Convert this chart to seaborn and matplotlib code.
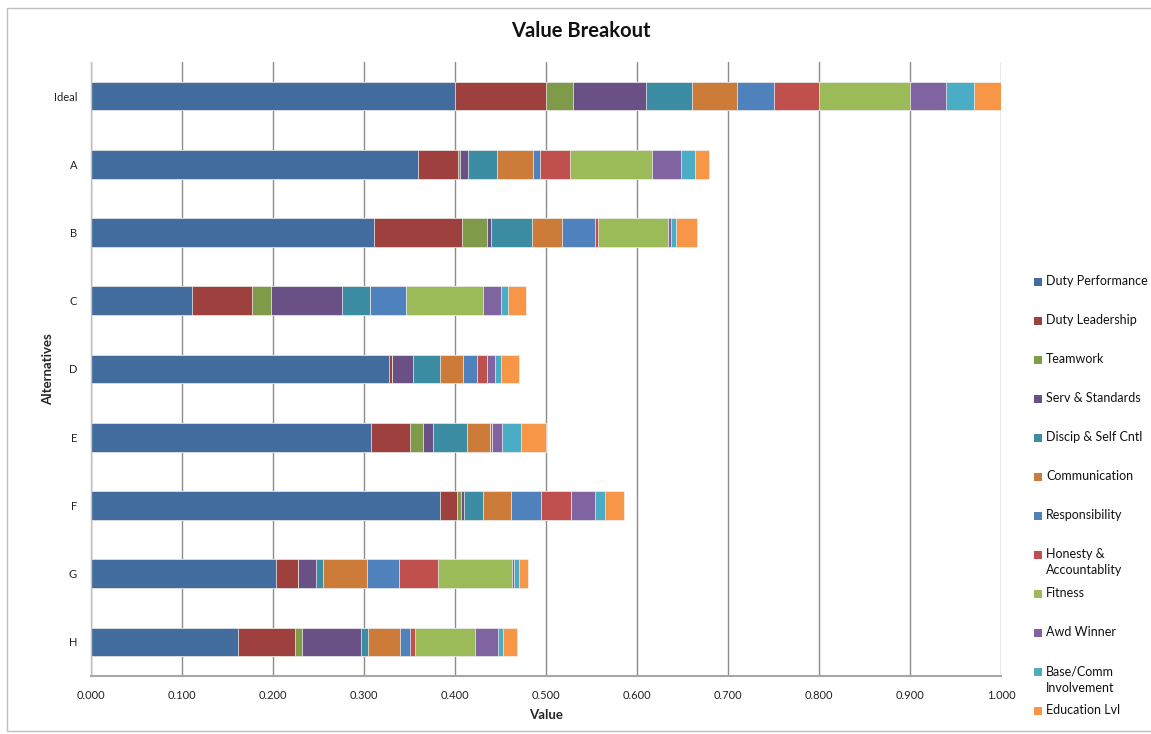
import numpy as np
import pandas as pd
import matplotlib
matplotlib.use("Agg")
import matplotlib.pyplot as plt
from matplotlib.patches import Rectangle
from matplotlib.ticker import FixedLocator, StrMethodFormatter
import seaborn as sns

# ---- data -------------------------------------------------------------
alternatives = ["Ideal", "A", "B", "C", "D", "E", "F", "G", "H"]

criteria = [
    "Duty Performance", "Duty Leadership", "Teamwork", "Serv & Standards",
    "Discip & Self Cntl", "Communication", "Responsibility",
    "Honesty &\nAccountablity", "Fitness", "Awd Winner",
    "Base/Comm\nInvolvement", "Education Lvl",
]

duty_performance = [0.400, 0.359, 0.311, 0.111, 0.327, 0.308, 0.384, 0.203, 0.162]
duty_leadership  = [0.100, 0.044, 0.097, 0.066, 0.004, 0.043, 0.018, 0.025, 0.062]
teamwork         = [0.030, 0.003, 0.027, 0.021, 0.000, 0.014, 0.005, 0.000, 0.008]
serv_standards   = [0.080, 0.008, 0.005, 0.078, 0.023, 0.011, 0.003, 0.019, 0.065]
discip_self_cntl = [0.050, 0.032, 0.045, 0.031, 0.030, 0.037, 0.021, 0.008, 0.007]
communication    = [0.050, 0.040, 0.033, 0.000, 0.025, 0.025, 0.031, 0.048, 0.036]
responsibility   = [0.040, 0.007, 0.036, 0.039, 0.015, 0.000, 0.032, 0.035, 0.011]
honesty_account  = [0.050, 0.033, 0.003, 0.000, 0.011, 0.003, 0.033, 0.043, 0.005]
fitness          = [0.100, 0.090, 0.077, 0.085, 0.000, 0.000, 0.000, 0.082, 0.066]
awd_winner       = [0.040, 0.032, 0.003, 0.020, 0.009, 0.011, 0.027, 0.002, 0.025]
base_comm_involv = [0.030, 0.016, 0.006, 0.007, 0.007, 0.021, 0.011, 0.005, 0.006]
education_lvl    = [0.030, 0.015, 0.023, 0.020, 0.019, 0.027, 0.021, 0.010, 0.015]

series = [
    duty_performance, duty_leadership, teamwork, serv_standards,
    discip_self_cntl, communication, responsibility, honesty_account,
    fitness, awd_winner, base_comm_involv, education_lvl,
]

colors = [
    "#416C9D", "#9E413E", "#7F9A48", "#695185", "#3C8DA3", "#CC7B38",
    "#4F81BD", "#C0504D", "#9BBB59", "#8064A2", "#4BACC6", "#F79646",
]

# ---- style ------------------------------------------------------------
sns.set_style("white")
plt.rcParams["font.family"] = ["Lato", "DejaVu Sans"]

W, H = 1151, 734
fig = plt.figure(figsize=(W / 100, H / 100), dpi=100)
ax = fig.add_axes([91 / W, 1 - 676 / H, 910 / W, 614 / H])

# stacked bars: draw cumulative totals from the outermost segment inward
values = np.array(series)
cumulative = np.cumsum(values, axis=0)
for i in range(len(series) - 1, -1, -1):
    df = pd.DataFrame({"Alternative": alternatives, "Value": cumulative[i]})
    sns.barplot(
        data=df, x="Value", y="Alternative", orient="h",
        color=colors[i], saturation=1, width=0.42,
        edgecolor="#F2F2F2", linewidth=0.5, ax=ax,
    )

# ---- axes -------------------------------------------------------------
ax.set_xlim(0, 1.0)
ax.set_ylim(8.5, -0.5)
ax.set_xticks(np.arange(0, 1.0001, 0.1))
ax.xaxis.set_major_formatter(StrMethodFormatter("{x:.3f}"))
ax.xaxis.grid(True, color="#8C8C8C", linewidth=1.0)
ax.yaxis.grid(False)
ax.set_axisbelow(True)

ax.yaxis.set_minor_locator(FixedLocator(np.arange(-0.5, 9.0, 1.0)))
ax.tick_params(axis="y", which="major", length=0, pad=10,
               labelsize=8, labelcolor="#222222")
ax.tick_params(axis="y", which="minor", length=5, width=1,
               color="#8C8C8C", direction="out")
ax.tick_params(axis="x", which="major", length=4, width=1,
               color="#8C8C8C", direction="out", pad=6,
               labelsize=8, labelcolor="#222222")

for side in ("top", "right"):
    ax.spines[side].set_visible(False)
ax.spines["left"].set_color("#BFBFBF")
ax.spines["left"].set_linewidth(1.0)
ax.spines["bottom"].set_color("#A6A6A6")
ax.spines["bottom"].set_linewidth(1.5)

ax.set_xlabel("Value", fontsize=9.5, fontweight="bold", labelpad=6)
ax.set_ylabel("Alternatives", fontsize=9.5, fontweight="bold", labelpad=0)

fig.text(581 / W, 1 - 31 / H, "Value Breakout", ha="center", va="center",
         fontsize=14.5, fontweight="bold", color="#111111")

# ---- legend -------------------------------------------------------------
row0, step = 282, 39
for k, (name, col) in enumerate(zip(criteria, colors)):
    yc = row0 + k * step
    fig.patches.append(Rectangle((1034 / W, 1 - (yc + 4) / H), 8 / W, 8 / H,
                                 transform=fig.transFigure, facecolor=col,
                                 edgecolor="none"))
    fig.text(1046 / W, 1 - (yc - 7) / H, name, ha="left", va="top",
             fontsize=9, color="#111111", linespacing=1.45)

# chart frame
fig.patches.append(Rectangle((7 / W, 1 - 731 / H), 1.2, 723 / H,
                             transform=fig.transFigure, facecolor="none",
                             edgecolor="#BFBFBF", linewidth=1.0))

fig.savefig("out.png", dpi=100)
